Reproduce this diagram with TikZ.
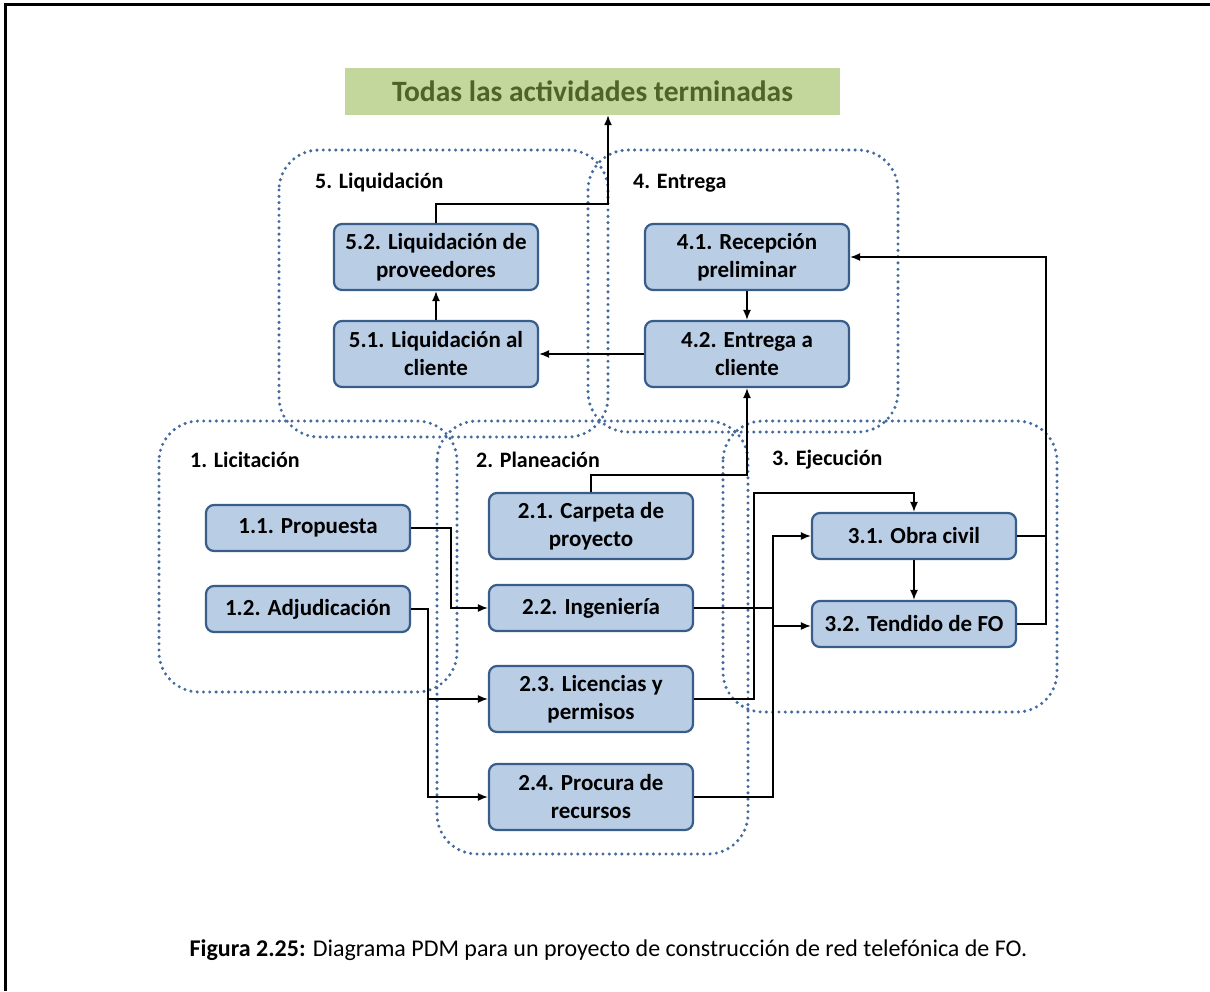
\documentclass[tikz,border=0pt]{standalone}
\usepackage{fontspec}
\setmainfont{Carlito}
\usetikzlibrary{arrows.meta}
\definecolor{tareafill}{RGB}{185,205,229}
\definecolor{tareaborde}{RGB}{56,93,138}
\definecolor{grupoazul}{RGB}{68,106,158}
\definecolor{finfill}{RGB}{195,214,155}
\definecolor{fintexto}{RGB}{79,98,40}
\tikzset{
  tarea/.style={draw=tareaborde, fill=tareafill, line width=2.2pt, rounded corners=8pt,
    minimum width=204pt, inner sep=3pt, align=center, font=\fontsize{23}{28}\selectfont\bfseries},
  grupo/.style={draw=grupoazul, line width=3.4pt, dash pattern=on 0pt off 6.3pt,
    line cap=round, rounded corners=40pt},
  etiqueta/.style={anchor=west, inner sep=0pt, font=\fontsize{22}{26}\selectfont\bfseries},
  flecha/.style={line width=1.5pt, -{Latex[length=10pt,width=8pt]}},
  linea/.style={line width=1.5pt}
}
\begin{document}
\begin{tikzpicture}[x=1pt,y=-1pt]
\useasboundingbox (0,0) rectangle (1210,991);
\draw[line width=3pt] (5,991) -- (5,4) -- (1210,4);
\draw[grupo] (279,150) rectangle (608,437);
\draw[grupo] (588,150) rectangle (898,432);
\draw[grupo] (159,421) rectangle (457,692);
\draw[grupo] (437,421) rectangle (748,854);
\draw[grupo] (723,421) rectangle (1057,712);
\node[etiqueta] (g5) at (315,183) {5. Liquidación};
\node[etiqueta] (g4) at (633,183) {4. Entrega};
\node[etiqueta] (g1) at (190,460) {1. Licitación};
\node[etiqueta] (g2) at (476,460) {2. Planeación};
\node[etiqueta] (g3) at (772,460) {3. Ejecución};
\node[fill=finfill, minimum width=495pt, minimum height=47pt, text=fintexto,
  font=\fontsize{29.5}{33}\selectfont\bfseries] (fin) at (592.5,91.5) {Todas las actividades terminadas};
\node[tarea, minimum height=66pt] (t52) at (436,257) {5.2. Liquidación de\\proveedores};
\node[tarea, minimum height=66pt] (t51) at (436,354) {5.1. Liquidación al\\cliente};
\node[tarea, minimum height=66pt] (t41) at (747,257) {4.1. Recepción\\preliminar};
\node[tarea, minimum height=66pt] (t42) at (747,354) {4.2. Entrega a\\cliente};
\node[tarea, minimum height=46pt] (t11) at (308,528) {1.1. Propuesta};
\node[tarea, minimum height=46pt] (t12) at (308,609) {1.2. Adjudicación};
\node[tarea, minimum height=66pt] (t21) at (591,526) {2.1. Carpeta de\\proyecto};
\node[tarea, minimum height=46pt] (t22) at (591,608) {2.2. Ingeniería};
\node[tarea, minimum height=66pt] (t23) at (591,699) {2.3. Licencias y\\permisos};
\node[tarea, minimum height=66pt] (t24) at (591,797) {2.4. Procura de\\recursos};
\node[tarea, minimum height=46pt] (t31) at (914,536) {3.1. Obra civil};
\node[tarea, minimum height=46pt] (t32) at (914,624) {3.2. Tendido de FO};
\coordinate (c1) at (608,204);
\draw[flecha] (t52.north) |- (c1) -- (c1 |- fin.south);
\draw[flecha] (t51) -- (t52);
\draw[flecha] (t41) -- (t42);
\draw[flecha] (t42) -- (t51);
\draw[flecha] (t21.north) -- ++(0,-17) -| (t42.south);
\draw[flecha] (t32.east) -- ++(29,0) |- (t41.east);
\draw[linea] (t31.east) -- ++(29,0);
\draw[flecha] (t11.east) -- ++(40,0) |- (t22.west);
\draw[flecha] (t12.east) -- ++(17,0) |- (t24.west);
\draw[flecha] (t12.east) -- ++(17,0) |- (t23.west);
\draw[linea] (t22.east) -- ++(79,0);
\draw[flecha] (t24.east) -- ++(79,0) coordinate (c4) |- (t31.west);
\draw[flecha] (c4) |- ([yshift=-2pt]t32.west);
\draw[flecha] (t23.east) -- ++(60,0) |- ([yshift=19pt]t31.north) -- (t31.north);
\draw[flecha] (t31) -- (t32);
\node[font=\fontsize{24}{28}\selectfont] (pie) at (608.5,950) {\textbf{Figura 2.25:} Diagrama PDM para un proyecto de construcción de red telefónica de FO.};
\end{tikzpicture}
\end{document}
